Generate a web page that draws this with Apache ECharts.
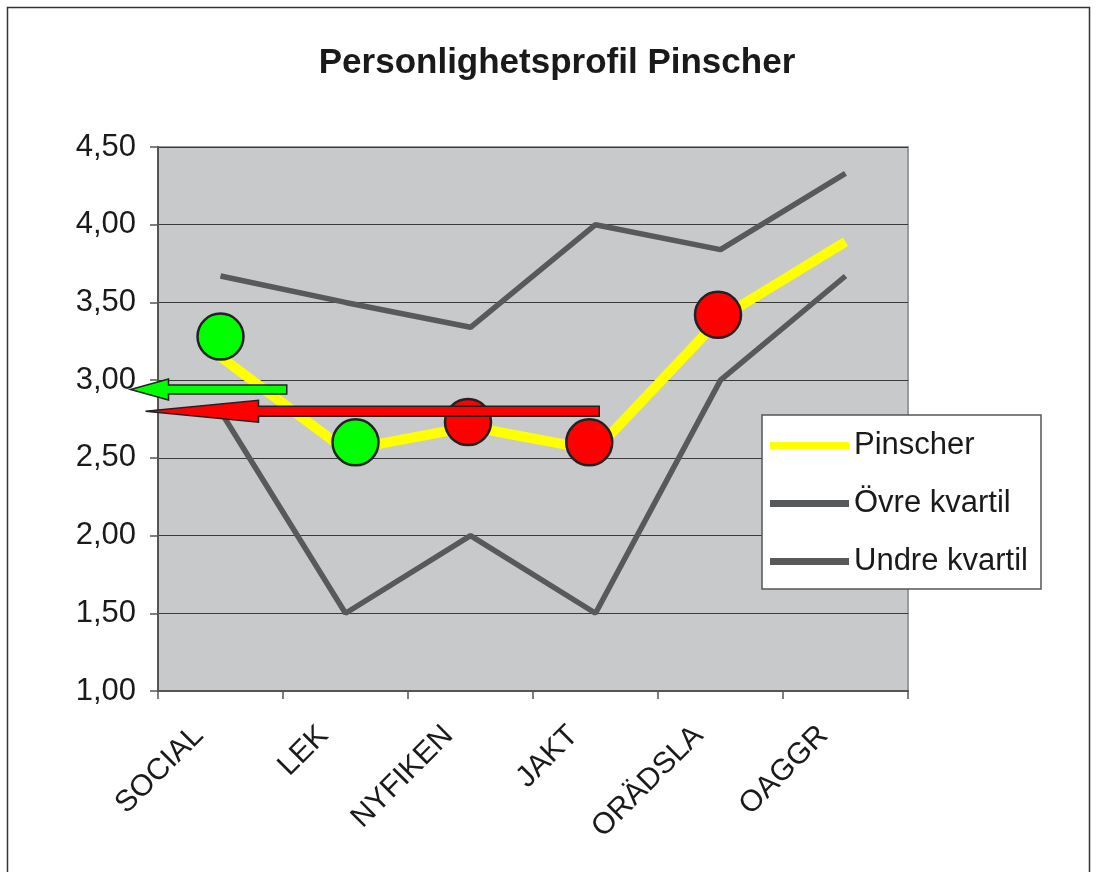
<!DOCTYPE html>
<html>
<head>
<meta charset="utf-8">
<script src="https://cdn.jsdelivr.net/npm/echarts@6/dist/echarts.min.js"></script>
<style>
html,body{margin:0;padding:0;background:#fff;}
#chart{width:1098px;height:872px;}
</style>
</head>
<body>
<div id="chart"></div>
<script>
// ---- data ----
const categories = ['SOCIAL', 'LEK', 'NYFIKEN', 'JAKT', 'ORÄDSLA', 'OAGGR'];
const yTicks = [1.0, 1.5, 2.0, 2.5, 3.0, 3.5, 4.0, 4.5];
const pinscher = [3.15, 2.55, 2.70, 2.55, 3.40, 3.89];
const ovreKvartil = [3.67, 3.50, 3.34, 4.00, 3.84, 4.33];
const undreKvartil = [2.80, 1.50, 2.00, 1.50, 3.00, 3.67];
// annotation circles (category index position, value)
const circleX = [0.0, 1.08, 1.98, 2.95, 3.98];
const circleY = [3.28, 2.60, 2.73, 2.60, 3.42];
const circleColor = ['#00ff00', '#00ff00', '#ff0000', '#ff0000', '#ff0000'];
// annotation arrows (tail x, tip x, y)
const arrowTailX = [0.53, 3.03];
const arrowTipX = [-0.72, -0.60];
const arrowY = [2.94, 2.80];
const arrowColor = ['#00ff00', '#ff0000'];

// ---- styles ----
const FONT = '"Liberation Sans", Arial, sans-serif';
const arrowShape = [
  {shaft: 9, headH: 21, head: 38},
  {shaft: 10, headH: 22, head: 113}
];

const chart = echarts.init(document.getElementById('chart'));

const circleData = circleX.map((x, i) => ({
  value: [x, circleY[i]],
  itemStyle: {color: circleColor[i]}
}));
const arrowData = arrowTailX.map((t, i) => [t, arrowTipX[i], arrowY[i]]);

const option = {
  animation: false,
  backgroundColor: '#ffffff',
  textStyle: {fontFamily: FONT},
  title: {
    text: 'Personlighetsprofil Pinscher',
    left: 552,
    textAlign: 'center',
    top: 41,
    textStyle: {fontFamily: FONT, fontSize: 35, fontWeight: 'bold', color: '#1a1a1a'}
  },
  graphic: [{
    type: 'rect',
    shape: {x: 7.5, y: 7.5, width: 1082, height: 900},
    style: {fill: null, stroke: '#333', lineWidth: 1.5},
    silent: true,
    z: -1
  }],
  legend: {
    data: ['Pinscher', 'Övre kvartil', 'Undre kvartil'],
    orient: 'vertical',
    left: 762,
    top: 415,
    icon: 'rect',
    itemWidth: 79,
    itemHeight: 7,
    itemGap: 27,
    padding: [15, 13, 12, 8],
    backgroundColor: '#ffffff',
    borderColor: '#555',
    borderWidth: 1.5,
    textStyle: {fontFamily: FONT, fontSize: 31, color: '#1a1a1a'}
  },
  grid: {
    left: 158, right: 190, top: 147, bottom: 181,
    show: true,
    backgroundColor: '#c8c9cb',
    borderColor: '#9a9a9a',
    borderWidth: 2,
    containLabel: false
  },
  xAxis: [{
    type: 'category',
    data: categories,
    boundaryGap: true,
    axisLine: {lineStyle: {color: '#555', width: 2}},
    axisTick: {show: true, length: 8, lineStyle: {color: '#555', width: 1.5}},
    axisLabel: {
      rotate: 45,
      margin: 18,
      padding: [0, 31, 0, 0],
      fontFamily: FONT,
      fontSize: 30,
      color: '#1a1a1a',
      interval: 0
    }
  }, {
    type: 'value',
    min: -0.5,
    max: 5.5,
    show: false
  }],
  yAxis: {
    type: 'value',
    min: yTicks[0],
    max: yTicks[yTicks.length - 1],
    interval: 0.5,
    axisLine: {show: true, onZero: false, lineStyle: {color: '#555', width: 2}},
    axisTick: {show: true, length: 8, lineStyle: {color: '#555', width: 1.5}},
    axisLabel: {
      margin: 22,
      fontFamily: FONT,
      fontSize: 31,
      color: '#1a1a1a',
      formatter: v => v.toFixed(2).replace('.', ',')
    },
    splitLine: {show: true, lineStyle: {color: '#3a3a3a', width: 1}}
  },
  series: [
    {
      name: 'Övre kvartil', type: 'line', data: ovreKvartil,
      symbol: 'none', color: '#58595b',
      lineStyle: {color: '#58595b', width: 5.5}
    },
    {
      name: 'Undre kvartil', type: 'line', data: undreKvartil,
      symbol: 'none', color: '#58595b',
      lineStyle: {color: '#58595b', width: 5.5}
    },
    {
      name: 'Pinscher', type: 'line', data: pinscher,
      symbol: 'none', color: '#ffff00',
      lineStyle: {color: '#ffff00', width: 10}
    },
    {
      name: 'markers', type: 'scatter', xAxisIndex: 1,
      data: circleData,
      symbol: 'circle', symbolSize: 46,
      itemStyle: {borderColor: '#222', borderWidth: 2.5, opacity: 1},
      clip: false, z: 3
    },
    {
      name: 'arrows', type: 'custom', xAxisIndex: 1,
      data: arrowData,
      dimensions: ['tail', 'tip', 'y'],
      encode: {x: [0, 1], y: 2},
      clip: false, z: 4,
      renderItem: function (params, api) {
        const tail = api.coord([api.value(0), api.value(2)]);
        const tip = api.coord([api.value(1), api.value(2)]);
        const s = arrowShape[params.dataIndex];
        const y = tip[1];
        const hx = tip[0] + s.head;
        const pts = [
          [tail[0], y - s.shaft / 2], [hx, y - s.shaft / 2], [hx, y - s.headH / 2],
          [tip[0], y], [hx, y + s.headH / 2], [hx, y + s.shaft / 2], [tail[0], y + s.shaft / 2]
        ];
        return {
          type: 'polygon',
          shape: {points: pts},
          style: {fill: arrowColor[params.dataIndex], stroke: '#222', lineWidth: 1.5}
        };
      }
    }
  ]
};
chart.setOption(option);
</script>
</body>
</html>
